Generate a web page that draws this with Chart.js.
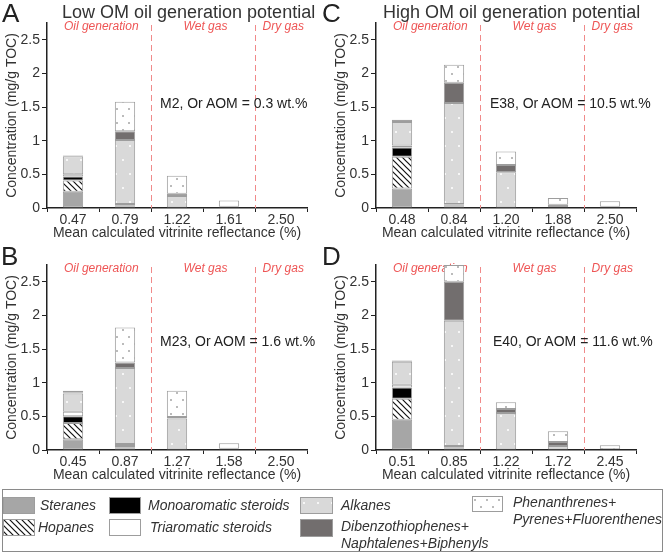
<!DOCTYPE html>
<html>
<head>
<meta charset="utf-8">
<script src="https://cdn.jsdelivr.net/npm/chart.js@4.4.0/dist/chart.umd.min.js"></script>
<style>
  body { margin:0; width:666px; height:553px; position:relative; overflow:hidden; background:#fff;
         font-family:"Liberation Sans", Arial, sans-serif; color:#333; }
  .abs { position:absolute; white-space:nowrap; }
  canvas.panel { position:absolute; }
  .letter { font-size:26px; color:#222; line-height:26px; }
  .title { font-size:18px; color:#333; line-height:20px; }
  .note { font-size:14px; color:#222; line-height:16px; }
  #legendBox { position:absolute; left:2px; top:489px; width:659px; height:61px; border:1px solid #8a8a8a; }
  .lg { font-size:14px; font-style:italic; color:#333; line-height:17px; }
  canvas.sw { position:absolute; }
</style>
</head>
<body>

<canvas id="pA" class="panel" width="333" height="245" style="left:0;top:0"></canvas>
<canvas id="pB" class="panel" width="333" height="245" style="left:0;top:242px"></canvas>
<canvas id="pC" class="panel" width="333" height="245" style="left:329px;top:0"></canvas>
<canvas id="pD" class="panel" width="333" height="245" style="left:329px;top:242px"></canvas>

<div class="abs letter" style="left:2px;top:0">A</div>
<div class="abs letter" style="left:322px;top:0">C</div>
<div class="abs letter" style="left:1px;top:243px">B</div>
<div class="abs letter" style="left:322px;top:243px">D</div>

<div class="abs title" style="left:62px;top:2px">Low OM oil generation potential</div>
<div class="abs title" style="left:383px;top:2px">High OM oil generation potential</div>

<div class="abs note" style="left:160px;top:95px">M2, Or AOM = 0.3 wt.%</div>
<div class="abs note" style="left:490px;top:95px">E38, Or AOM = 10.5 wt.%</div>
<div class="abs note" style="left:160px;top:333px">M23, Or AOM = 1.6 wt.%</div>
<div class="abs note" style="left:493px;top:333px">E40, Or AOM = 11.6 wt.%</div>

<div id="legendBox"></div>
<canvas id="sw0" class="sw" width="32" height="17" style="left:3px;top:497px"></canvas>
<div class="abs lg" style="left:40px;top:497px">Steranes</div>
<canvas id="sw1" class="sw" width="32" height="17" style="left:3px;top:519px"></canvas>
<div class="abs lg" style="left:38px;top:519px">Hopanes</div>
<canvas id="sw2" class="sw" width="32" height="17" style="left:109px;top:497px"></canvas>
<div class="abs lg" style="left:148px;top:497px">Monoaromatic steroids</div>
<canvas id="sw3" class="sw" width="32" height="17" style="left:109px;top:519px"></canvas>
<div class="abs lg" style="left:150px;top:519px">Triaromatic steroids</div>
<canvas id="sw4" class="sw" width="33" height="17" style="left:300px;top:497px"></canvas>
<div class="abs lg" style="left:341px;top:497px">Alkanes</div>
<canvas id="sw5" class="sw" width="33" height="18" style="left:300px;top:519px"></canvas>
<div class="abs lg" style="left:341px;top:518px">Dibenzothiophenes+<br>Naphtalenes+Biphenyls</div>
<canvas id="sw6" class="sw" width="31" height="16" style="left:472px;top:496px"></canvas>
<div class="abs lg" style="left:513px;top:494px">Phenanthrenes+<br>Pyrenes+Fluorenthenes</div>

<script>
// panels in order A, B, C, D
var categories = [
  ['0.47', '0.79', '1.22', '1.61', '2.50'],
  ['0.45', '0.87', '1.27', '1.58', '2.50'],
  ['0.48', '0.84', '1.20', '1.88', '2.50'],
  ['0.51', '0.85', '1.22', '1.72', '2.45']
];
var steranes = [
  [0.24, 0.02, 0, 0, 0],
  [0.16, 0.02, 0, 0, 0],
  [0.29, 0.02, 0, 0, 0],
  [0.45, 0.02, 0, 0, 0]
];
var hopanes = [
  [0.17, 0.01, 0, 0, 0],
  [0.24, 0.02, 0, 0, 0],
  [0.47, 0.02, 0, 0, 0],
  [0.31, 0.01, 0, 0, 0]
];
var monoaromatic = [
  [0.06, 0.01, 0, 0, 0],
  [0.10, 0.02, 0, 0, 0],
  [0.14, 0.01, 0, 0, 0],
  [0.17, 0.01, 0, 0, 0]
];
var triaromatic = [
  [0.03, 0.02, 0, 0, 0],
  [0.07, 0.03, 0, 0, 0],
  [0.03, 0.01, 0, 0, 0],
  [0.04, 0.02, 0, 0, 0]
];
var alkanes = [
  [0.27, 0.95, 0.18, 0.01, 0],
  [0.27, 1.13, 0.47, 0.01, 0],
  [0.35, 1.50, 0.53, 0.01, 0.01],
  [0.34, 1.86, 0.55, 0.06, 0.01]
];
var dibenzothiophenes = [
  [0.01, 0.13, 0.03, 0.01, 0],
  [0.02, 0.08, 0.02, 0.01, 0],
  [0.03, 0.30, 0.11, 0.04, 0.01],
  [0.02, 0.58, 0.06, 0.06, 0]
];
var phenanthrenes = [
  [0, 0.44, 0.27, 0.09, 0],
  [0.02, 0.52, 0.39, 0.08, 0],
  [0, 0.27, 0.20, 0.10, 0.08],
  [0, 0.25, 0.10, 0.16, 0.06]
];
var yTicks = [0, 0.5, 1, 1.5, 2, 2.5];
var zoneNames = ['Oil generation', 'Wet gas', 'Dry gas'];
var zoneBounds = [1.5, 3.5];

var seriesNames = ['Steranes', 'Hopanes', 'Monoaromatic steroids', 'Triaromatic steroids', 'Alkanes',
  'Dibenzothiophenes+Naphtalenes+Biphenyls', 'Phenanthrenes+Pyrenes+Fluorenthenes'];
var seriesValues = [steranes, hopanes, monoaromatic, triaromatic, alkanes, dibenzothiophenes, phenanthrenes];

function makePattern(w, h, bg, draw) {
  var c = document.createElement('canvas');
  c.width = w; c.height = h;
  var g = c.getContext('2d');
  g.fillStyle = bg;
  g.fillRect(0, 0, w, h);
  draw(g);
  return g.createPattern(c, 'repeat');
}
function dot(g, x, y, r, col) {
  g.fillStyle = col;
  g.beginPath(); g.arc(x, y, r, 0, Math.PI * 2); g.fill();
}

var hatch = makePattern(6, 6, '#fff', function(g) {
  g.strokeStyle = '#111';
  g.lineWidth = 1.2;
  g.beginPath();
  g.moveTo(-1, -1); g.lineTo(7, 7);
  g.moveTo(-1, 5); g.lineTo(1, 7);
  g.moveTo(5, -1); g.lineTo(7, 1);
  g.stroke();
});
var alkaneFill = makePattern(14, 28, '#d9d9d9', function(g) {
  dot(g, 4, 6, 1, '#fff');
  dot(g, 11, 20, 1, '#fff');
});
var phenFill = makePattern(12, 14, '#fff', function(g) {
  dot(g, 3, 4, 0.7, '#444');
  dot(g, 9, 11, 0.7, '#444');
});
var fills = ['#a6a6a6', hatch, '#000', '#fff', alkaneFill, '#726e6e', phenFill];

var zonePlugin = {
  id: 'zones',
  beforeDatasetsDraw: function(chart) {
    var ctx = chart.ctx, area = chart.chartArea, x = chart.scales.x;
    var edges = [area.left];
    ctx.save();
    ctx.strokeStyle = '#f08a8a';
    ctx.lineWidth = 1;
    ctx.setLineDash([6, 4]);
    zoneBounds.forEach(function(b) {
      var px = Math.round(x.getPixelForValue(b)) + 0.5;
      edges.push(px);
      ctx.beginPath();
      ctx.moveTo(px, area.top + 2);
      ctx.lineTo(px, area.bottom);
      ctx.stroke();
    });
    edges.push(area.right);
    ctx.setLineDash([]);
    ctx.fillStyle = '#ee5555';
    ctx.font = 'italic 12px "Liberation Sans", Arial, sans-serif';
    ctx.textAlign = 'center';
    ctx.textBaseline = 'middle';
    zoneNames.forEach(function(n, i) {
      ctx.fillText(n, (edges[i] + edges[i + 1]) / 2 + 2, area.top + 4);
    });
    ctx.restore();
  }
};

function buildPanel(id, p) {
  var datasets = seriesValues.map(function(s, k) {
    return {
      label: seriesNames[k],
      data: s[p],
      backgroundColor: fills[k],
      borderColor: '#9d9d9d',
      borderWidth: 1,
      borderSkipped: false,
      barPercentage: 0.39,
      categoryPercentage: 1,
      clip: false
    };
  });
  new Chart(document.getElementById(id), {
    type: 'bar',
    data: { labels: categories[p], datasets: datasets },
    options: {
      responsive: false,
      animation: false,
      devicePixelRatio: 1,
      layout: { padding: { top: 23, right: 26, left: 0, bottom: 0 } },
      plugins: { legend: { display: false }, tooltip: { enabled: false } },
      scales: {
        x: {
          stacked: true,
          grid: { offset: true, drawOnChartArea: false, tickLength: 4, color: '#222', lineWidth: 1 },
          border: { color: '#222', width: 1.5 },
          ticks: { font: { size: 14 }, color: '#333', padding: 0 },
          title: { display: true, text: 'Mean calculated vitrinite reflectance (%)', font: { size: 14 }, color: '#333',
                   padding: { top: 0, bottom: 3 } },
          afterFit: function(s) { s.height = 37; }
        },
        y: {
          stacked: true,
          min: 0,
          max: 2.75,
          afterBuildTicks: function(s) { s.ticks = yTicks.map(function(v) { return { value: v }; }); },
          grid: { drawOnChartArea: false, tickLength: 5, color: '#222', lineWidth: 1 },
          border: { color: '#222', width: 1.5 },
          ticks: { font: { size: 14 }, color: '#333', padding: 2,
                   callback: function(v) { return String(v); } },
          title: { display: true, text: 'Concentration (mg/g TOC)', font: { size: 14 }, color: '#333',
                   padding: { top: 4, bottom: 0 } },
          afterFit: function(s) { s.width = 47; }
        }
      }
    },
    plugins: [zonePlugin]
  });
}

Chart.defaults.font.family = '"Liberation Sans", Arial, sans-serif';
buildPanel('pA', 0);
buildPanel('pB', 1);
buildPanel('pC', 2);
buildPanel('pD', 3);

// legend swatches, same fills as the bars
fills.forEach(function(f, k) {
  var c = document.getElementById('sw' + k);
  var g = c.getContext('2d');
  g.fillStyle = f;
  g.fillRect(0, 0, c.width, c.height);
  g.strokeStyle = '#9d9d9d';
  g.lineWidth = 1;
  g.strokeRect(0.5, 0.5, c.width - 1, c.height - 1);
});
</script>
</body>
</html>
